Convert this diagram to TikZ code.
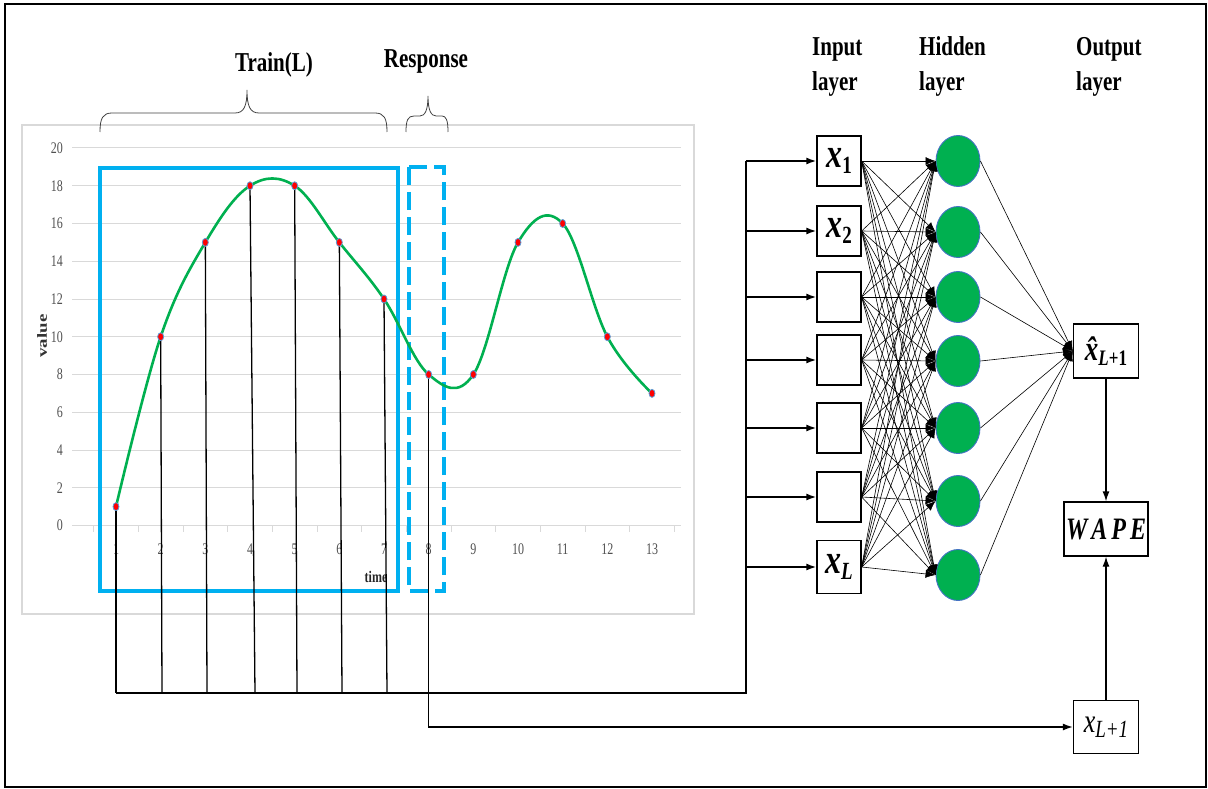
\documentclass[tikz,border=0pt]{standalone}
\usepackage{fontspec}
\setmainfont{Liberation Serif}
\usetikzlibrary{arrows.meta,shapes.geometric,calc}
\definecolor{lineGreen}{RGB}{0,176,80}
\definecolor{boxBlue}{RGB}{0,176,240}
\definecolor{gridGray}{RGB}{217,217,217}
\definecolor{tickGray}{RGB}{80,80,80}
\definecolor{rimBlue}{RGB}{68,114,196}
\definecolor{dotRim}{RGB}{91,155,213}
% vertically stretched text
\newcommand\tallA[1]{\scalebox{1}[1.3]{#1}}
\newcommand\tallB[1]{\scalebox{1}[1.35]{#1}}
% bold italic variable with a lowered index
\newcommand\varx[3]{\tallA{\bfseries\itshape #1\raisebox{-0.3ex}{\fontsize{#2}{#2}\selectfont #3}}}
\begin{document}
\begin{tikzpicture}[x=1pt,y=-1pt,
  inbox/.style={draw,line width=1.3pt,minimum width=44pt,minimum height=50pt,inner sep=0pt,
    font=\fontsize{32}{34}\selectfont},
  neuron/.style={ellipse,fill=lineGreen,draw=rimBlue,line width=0.9pt,
    minimum width=44pt,minimum height=51pt,inner sep=0pt},
  nnedge/.style={line width=0.6pt,-{Latex[length=10pt,width=8pt]}},
  feed/.style={line width=1.6pt,-{Latex[length=10pt,width=7pt]}},
  stem/.style={line width=1.3pt},
  bracepen/.style={line width=0.8pt,black!75},
  layerlabel/.style={font=\fontsize{21}{35}\selectfont\bfseries,align=left,anchor=base west,inner sep=0pt},
  toplabel/.style={font=\fontsize{21}{24}\selectfont\bfseries,anchor=base,inner sep=0pt},
  ticklabel/.style={font=\fontsize{12}{12}\selectfont,text=tickGray,inner sep=0pt},
  dot/.style={ellipse,fill=red,draw=dotRim,line width=0.8pt,minimum width=6pt,minimum height=8pt,inner sep=0pt},
]
\useasboundingbox (0,0) rectangle (1208,789);
% outer frame
\draw[line width=2.5pt] (5,4) rectangle (1206,787);

% ---------------- chart ----------------
\draw[gridGray,line width=1.2pt] (22,125) rectangle (694,614);
\foreach \v in {0,2,...,20}{
  \draw[gridGray,line width=1pt] (72,{525.5-\v*18.875}) -- (681,{525.5-\v*18.875});
  \node[ticklabel,anchor=east] at (63,{525.5-\v*18.875}) {\tallB{\v}};
}
\foreach \k in {0,...,13}
  \draw[gridGray,line width=1pt] ({93.67+\k*44.667},525.5) -- ++(0,6);
\foreach \k in {1,...,13}
  \node[ticklabel] at ({116+(\k-1)*44.667},549) {\tallB{\k}};
\node[rotate=90,inner sep=0pt,text=black!80,font=\fontsize{14}{14}\selectfont\bfseries] (ylab) at (42,336) {\scalebox{1.35}[1]{value}};
\node[inner sep=0pt,text=black!85,font=\fontsize{12}{12}\selectfont\bfseries] (xlab) at (376,577) {\tallB{time}};

% data points
\foreach \k/\v in {1/1,2/10,3/15,4/18,5/18,6/15,7/12,8/8,9/8,10/15,11/16,12/10,13/7}
  \coordinate (p\k) at ({116+(\k-1)*44.667},{525.5-\v*18.875});

% windows
\draw[boxBlue,line width=4.5pt] (100,168) rectangle (398,591);
\draw[boxBlue,line width=4pt,dash pattern=on 18pt off 7pt] (409,167) rectangle (444,591);

% series
\draw[lineGreen,line width=2.6pt] plot[smooth,tension=0.62] coordinates
  {(p1) (p2) (p3) (p4) (p5) (p6) (p7) (p8) (p9) (p10) (p11) (p12) (p13)};

% braces and captions
\draw[bracepen] (100,132) .. controls (100,118) and (103,113) .. (112,113) -- (235,113)
  .. controls (244,113) and (247,106) .. (247,90) .. controls (247,106) and (250,113) .. (259,113)
  -- (375,113) .. controls (384,113) and (387,118) .. (387,132);
\draw[bracepen] (406,132) .. controls (406,120) and (408,116) .. (414,116) -- (420,116)
  .. controls (425,116) and (428,110) .. (428,96) .. controls (428,110) and (431,116) .. (436,116)
  -- (442,116) .. controls (446,116) and (448,120) .. (448,132);
\node[toplabel] (train) at (274,72) {\tallA{Train(L)}};
\node[toplabel] (resp) at (426,68) {\tallA{Response}};

% ---------------- network ----------------
\node[layerlabel] (lin) at (812,91) {\tallA{Input}\\\tallA{layer}};
\node[layerlabel] (lhid) at (919,91) {\tallA{Hidden}\\\tallA{layer}};
\node[layerlabel] (lout) at (1076,91) {\tallA{Output}\\\tallA{layer}};

\node[inbox] (in1) at (839,161) {\varx{x}{19}{\upshape 1}};
\node[inbox] (in2) at (839,231) {\varx{x}{19}{\upshape 2}};
\node[inbox] (in3) at (839,297) {};
\node[inbox] (in4) at (839,360) {};
\node[inbox] (in5) at (839,428) {};
\node[inbox] (in6) at (839,497) {};
\node[inbox,minimum height=53pt] (in7) at (839,567) {\varx{x}{19}{L}};

\foreach \j/\y in {1/161,2/232,3/297,4/361,5/428,6/501,7/575}
  \node[neuron] (h\j) at (958,\y) {};

\node[inbox,minimum width=65pt,minimum height=54pt,font=\fontsize{27}{29}\selectfont] (yhat) at (1106,351)
  {\varx{\^{x}}{17}{L\upshape+1}};
\node[inbox,minimum width=84pt,minimum height=54pt,font=\fontsize{24}{26}\selectfont] (wape) at (1106,529)
  {\tallA{\bfseries\itshape W\,A\,P\,E}};
\node[inbox,minimum width=65pt,minimum height=53pt,font=\fontsize{26}{28}\selectfont] (xl1) at (1106,727)
  {\tallA{\itshape x\raisebox{-0.35ex}{\fontsize{19}{19}\selectfont L+1}}};

\foreach \i in {1,...,7}
  \foreach \j in {1,...,7}
    \draw[nnedge] (in\i.east) -- (h\j.west);
\foreach \j in {1,...,7}
  \draw[nnedge] (h\j.east) -- (yhat.west);

\draw[feed,line width=1.3pt] (yhat) -- (wape);
\draw[feed,line width=1.3pt] (xl1) -- (wape);

% ---------------- sampling lines ----------------
\foreach \k/\bx in {1/116,2/162,3/207,4/255,5/297,6/342,7/387}{
  \coordinate (b\k) at (\bx,693);
  \draw[stem] (p\k) -- (b\k);
}
\coordinate (busC) at (746,693);
\draw[line width=1.6pt] (b1) -- (busC) -- (in1.west -| busC);
\foreach \i in {1,...,7}{
  \coordinate (f\i) at (in\i.west -| busC);
  \draw[feed] (f\i) -- (in\i.west);
}
\draw[feed,line width=1.4pt] (p8) |- (xl1.west);

% markers on top
\foreach \k in {1,...,13}
  \node[dot] (d\k) at (p\k) {};
\end{tikzpicture}
\end{document}
